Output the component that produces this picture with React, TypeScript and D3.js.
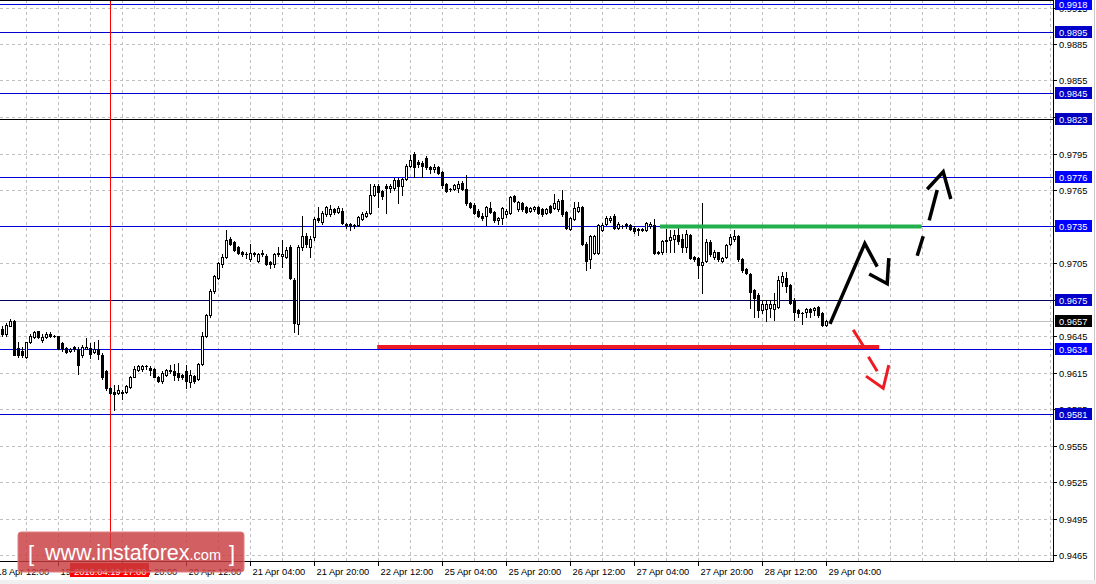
import React from 'react';
import * as d3 from 'd3';

// ---------- DATA ----------
// H1 candles, from 18 Apr 14:00 to 29 Apr 04:00 (open, high, low, close)
const ohlc: [number, number, number, number][] = [
  [0.9651,0.9653,0.9645,0.9647],[0.9647,0.9656,0.9645,0.9654],[0.9653,0.9659,0.9653,0.9657],[0.9657,0.9658,0.9629,0.9629],
  [0.9635,0.9640,0.9628,0.9629],[0.9633,0.9636,0.9628,0.9629],[0.9628,0.9640,0.9627,0.9640],[0.9640,0.9647,0.9639,0.9645],
  [0.9644,0.9649,0.9643,0.9648],[0.9649,0.9649,0.9643,0.9644],[0.9642,0.9647,0.9640,0.9644],[0.9644,0.9648,0.9643,0.9647],
  [0.9647,0.9648,0.9644,0.9645],[0.9645,0.9646,0.9644,0.9645],[0.9645,0.9645,0.9634,0.9635],[0.9639,0.9640,0.9633,0.9635],
  [0.9635,0.9636,0.9631,0.9632],[0.9633,0.9635,0.9632,0.9634],[0.9636,0.9637,0.9633,0.9634],[0.9634,0.9636,0.9614,0.9621],
  [0.9629,0.9638,0.9628,0.9636],[0.9634,0.9643,0.9634,0.9636],[0.9635,0.9639,0.9627,0.9630],[0.9632,0.9640,0.9631,0.9634],
  [0.9634,0.9642,0.9626,0.9630],[0.9629,0.9631,0.9610,0.9611],[0.9616,0.9617,0.9601,0.9602],[0.9602,0.9603,0.9597,0.9598],
  [0.9599,0.9605,0.9584,0.9597],[0.9598,0.9605,0.9597,0.9601],[0.9599,0.9601,0.9593,0.9598],[0.9599,0.9605,0.9598,0.9604],
  [0.9603,0.9612,0.9602,0.9611],[0.9611,0.9620,0.9611,0.9618],[0.9617,0.9621,0.9616,0.9620],[0.9618,0.9621,0.9616,0.9620],
  [0.9620,0.9621,0.9618,0.9620],[0.9619,0.9620,0.9613,0.9617],[0.9618,0.9619,0.9611,0.9611],[0.9611,0.9612,0.9607,0.9608],
  [0.9608,0.9616,0.9606,0.9615],[0.9613,0.9618,0.9612,0.9617],[0.9617,0.9621,0.9615,0.9616],[0.9616,0.9622,0.9609,0.9613],
  [0.9615,0.9623,0.9609,0.9611],[0.9613,0.9614,0.9610,0.9611],[0.9616,0.9621,0.9602,0.9608],[0.9607,0.9617,0.9603,0.9613],
  [0.9612,0.9613,0.9606,0.9608],[0.9610,0.9623,0.9609,0.9622],[0.9622,0.9648,0.9621,0.9645],[0.9645,0.9663,0.9644,0.9662],
  [0.9662,0.9684,0.9661,0.9682],[0.9682,0.9695,0.9680,0.9694],[0.9693,0.9706,0.9692,0.9705],[0.9704,0.9712,0.9702,0.9710],
  [0.9710,0.9732,0.9709,0.9724],[0.9725,0.9726,0.9720,0.9721],[0.9722,0.9723,0.9715,0.9716],[0.9718,0.9719,0.9712,0.9713],
  [0.9714,0.9715,0.9711,0.9712],[0.9712,0.9714,0.9709,0.9712],[0.9708,0.9721,0.9707,0.9713],[0.9713,0.9714,0.9711,0.9712],
  [0.9707,0.9713,0.9706,0.9712],[0.9713,0.9716,0.9711,0.9712],[0.9711,0.9712,0.9703,0.9704],[0.9706,0.9707,0.9701,0.9704],
  [0.9704,0.9713,0.9702,0.9712],[0.9713,0.9718,0.9711,0.9712],[0.9711,0.9724,0.9702,0.9712],[0.9710,0.9718,0.9709,0.9716],
  [0.9718,0.9720,0.9692,0.9693],[0.9691,0.9693,0.9648,0.9656],[0.9655,0.9720,0.9647,0.9718],[0.9718,0.9744,0.9716,0.9727],
  [0.9727,0.9730,0.9718,0.9721],[0.9718,0.9727,0.9710,0.9725],[0.9726,0.9743,0.9724,0.9741],[0.9742,0.9751,0.9739,0.9740],
  [0.9739,0.9748,0.9737,0.9746],[0.9745,0.9752,0.9744,0.9751],[0.9745,0.9753,0.9744,0.9749],[0.9749,0.9750,0.9745,0.9747],
  [0.9747,0.9752,0.9746,0.9750],[0.9748,0.9750,0.9737,0.9738],[0.9737,0.9738,0.9734,0.9736],[0.9737,0.9738,0.9732,0.9735],
  [0.9736,0.9737,0.9734,0.9736],[0.9736,0.9744,0.9735,0.9743],[0.9741,0.9747,0.9740,0.9745],[0.9744,0.9748,0.9743,0.9746],
  [0.9746,0.9770,0.9745,0.9761],[0.9761,0.9770,0.9760,0.9768],[0.9768,0.9770,0.9751,0.9763],[0.9764,0.9765,0.9758,0.9760],
  [0.9768,0.9770,0.9746,0.9767],[0.9767,0.9770,0.9763,0.9768],[0.9767,0.9775,0.9765,0.9773],[0.9773,0.9775,0.9754,0.9768],
  [0.9768,0.9775,0.9761,0.9774],[0.9774,0.9786,0.9773,0.9785],[0.9785,0.9794,0.9784,0.9790],[0.9795,0.9796,0.9776,0.9784],
  [0.9788,0.9790,0.9784,0.9786],[0.9787,0.9789,0.9776,0.9785],[0.9791,0.9793,0.9782,0.9784],[0.9784,0.9785,0.9779,0.9782],
  [0.9782,0.9786,0.9780,0.9784],[0.9784,0.9785,0.9778,0.9779],[0.9780,0.9781,0.9767,0.9769],[0.9770,0.9771,0.9763,0.9764],
  [0.9766,0.9767,0.9764,0.9766],[0.9766,0.9770,0.9765,0.9769],[0.9767,0.9772,0.9763,0.9770],[0.9771,0.9772,0.9765,0.9766],
  [0.9766,0.9777,0.9753,0.9754],[0.9754,0.9755,0.9750,0.9751],[0.9753,0.9754,0.9745,0.9746],[0.9748,0.9749,0.9743,0.9744],
  [0.9744,0.9746,0.9740,0.9742],[0.9744,0.9752,0.9736,0.9751],[0.9750,0.9755,0.9746,0.9747],[0.9747,0.9748,0.9739,0.9740],
  [0.9740,0.9743,0.9737,0.9742],[0.9742,0.9751,0.9737,0.9750],[0.9745,0.9749,0.9743,0.9748],[0.9746,0.9760,0.9745,0.9759],
  [0.9760,0.9761,0.9755,0.9756],[0.9749,0.9756,0.9748,0.9755],[0.9754,0.9755,0.9748,0.9749],[0.9751,0.9752,0.9746,0.9747],
  [0.9748,0.9751,0.9747,0.9750],[0.9749,0.9752,0.9748,0.9751],[0.9751,0.9752,0.9745,0.9746],[0.9749,0.9750,0.9744,0.9745],
  [0.9746,0.9750,0.9745,0.9749],[0.9752,0.9753,0.9746,0.9747],[0.9750,0.9762,0.9749,0.9754],[0.9749,0.9758,0.9748,0.9756],
  [0.9757,0.9765,0.9744,0.9745],[0.9747,0.9748,0.9733,0.9734],[0.9733,0.9743,0.9732,0.9742],[0.9741,0.9755,0.9740,0.9750],
  [0.9748,0.9755,0.9747,0.9751],[0.9751,0.9752,0.9720,0.9721],[0.9721,0.9722,0.9699,0.9707],[0.9708,0.9728,0.9701,0.9727],
  [0.9713,0.9728,0.9712,0.9727],[0.9713,0.9737,0.9712,0.9736],[0.9732,0.9738,0.9731,0.9736],[0.9737,0.9744,0.9736,0.9742],
  [0.9740,0.9744,0.9739,0.9742],[0.9744,0.9745,0.9733,0.9734],[0.9734,0.9739,0.9733,0.9737],[0.9735,0.9736,0.9734,0.9735],
  [0.9737,0.9738,0.9734,0.9735],[0.9736,0.9737,0.9732,0.9733],[0.9734,0.9735,0.9730,0.9731],[0.9733,0.9734,0.9728,0.9732],
  [0.9733,0.9734,0.9731,0.9732],[0.9732,0.9739,0.9731,0.9738],[0.9735,0.9739,0.9734,0.9737],[0.9736,0.9741,0.9712,0.9713],
  [0.9714,0.9715,0.9712,0.9713],[0.9714,0.9724,0.9712,0.9723],[0.9724,0.9733,0.9714,0.9723],[0.9724,0.9732,0.9714,0.9726],
  [0.9725,0.9732,0.9714,0.9728],[0.9728,0.9736,0.9721,0.9723],[0.9725,0.9729,0.9714,0.9718],[0.9718,0.9732,0.9714,0.9729],
  [0.9728,0.9729,0.9708,0.9709],[0.9710,0.9711,0.9707,0.9708],[0.9709,0.9710,0.9693,0.9703],[0.9703,0.9754,0.9680,0.9706],
  [0.9707,0.9725,0.9706,0.9722],[0.9722,0.9724,0.9711,0.9712],[0.9710,0.9716,0.9708,0.9714],[0.9714,0.9714,0.9707,0.9708],
  [0.9707,0.9710,0.9706,0.9709],[0.9710,0.9721,0.9709,0.9720],[0.9721,0.9729,0.9720,0.9726],[0.9725,0.9732,0.9723,0.9727],
  [0.9727,0.9728,0.9707,0.9708],[0.9708,0.9709,0.9698,0.9699],[0.9700,0.9701,0.9696,0.9697],[0.9696,0.9697,0.9668,0.9681],
  [0.9683,0.9684,0.9661,0.9676],[0.9679,0.9680,0.9661,0.9666],[0.9666,0.9675,0.9664,0.9671],[0.9667,0.9675,0.9657,0.9671],
  [0.9668,0.9675,0.9661,0.9671],[0.9667,0.9680,0.9658,0.9671],[0.9669,0.9694,0.9668,0.9691],[0.9689,0.9698,0.9686,0.9694],
  [0.9693,0.9698,0.9681,0.9686],[0.9687,0.9688,0.9671,0.9672],[0.9675,0.9676,0.9658,0.9665],[0.9666,0.9667,0.9661,0.9664],
  [0.9664,0.9665,0.9655,0.9664],[0.9665,0.9668,0.9661,0.9667],[0.9667,0.9668,0.9661,0.9665],[0.9666,0.9669,0.9662,0.9668],
  [0.9669,0.9670,0.9661,0.9662],[0.9664,0.9665,0.9653,0.9654],[0.9654,0.9658,0.9653,0.9657],
];

const priceTickLabels = ['0.9465','0.9495','0.9525','0.9555','0.9585','0.9615','0.9645','0.9675','0.9705','0.9735','0.9765','0.9795','0.9825','0.9855','0.9885','0.9915'];
const timeTickBars = [-2, 14, 30, 46, 62, 78, 94, 110, 126, 142, 158, 174, 190, 206];
const timeTickLabels = ['18 Apr 12:00','19 Apr 04:00','19 Apr 20:00','20 Apr 12:00','21 Apr 04:00','21 Apr 20:00','22 Apr 12:00','25 Apr 04:00','25 Apr 20:00','26 Apr 12:00','27 Apr 04:00','27 Apr 20:00','28 Apr 12:00','29 Apr 04:00'];

const levelValues = [0.9918, 0.9895, 0.9845, 0.9823, 0.9776, 0.9735, 0.9675, 0.9634, 0.9581];
const levelKinds = ['blue', 'dark', 'dark', 'black', 'blue', 'blue', 'navy', 'blue', 'dark'];
const lastPrice = 0.9657;
const markerBar = 27;
const markerLabel = '2016.04.19 17:00';

// drawn analysis lines, as [bar, price]
const greenLevel: [number, number][] = [[164.5, 0.9735], [229.9, 0.9735]];
const redLevel: [number, number][] = [[93.8, 0.9636], [219.3, 0.9636]];
const blackMove: [number, number][] = [[207, 0.9655], [215.7, 0.9721], [218.8, 0.9702]];
const blackHook: [number, number][] = [[216.8, 0.9696], [221.3, 0.9688], [221.7, 0.9709]];
const blackDash1: [number, number][] = [[228.8, 0.9711], [230.3, 0.9727]];
const blackDash2: [number, number][] = [[231.8, 0.9740], [233.8, 0.9765]];
const blackHead: [number, number][] = [[231.3, 0.97656], [235.3, 0.9780], [237.2, 0.97576]];
const redDash1: [number, number][] = [[212.8, 0.9650], [215.3, 0.9637]];
const redDash2: [number, number][] = [[216.6, 0.9628], [218.8, 0.9616]];
const redHead: [number, number][] = [[216, 0.9612], [220.3, 0.9602], [221.7, 0.9621]];

// ---------- LAYOUT ----------
const W = 1096, H = 584;
const PR = 1053; // plot right edge
const PB = 561;  // plot bottom edge
const FONT = '"Liberation Sans", Arial, sans-serif';

const xs = d3.scaleLinear().domain([0, 262]).range([2, 1050]);
const ys = d3.scaleLinear().domain([0.9465, 0.9885]).range([555, 44]);

const line = d3.line<[number, number]>().x(d => xs(d[0])).y(d => ys(d[1]));

const lineColor: Record<string, string> = { blue: '#0000dd', dark: '#0000cc', black: '#000000', navy: '#000060' };
const boxColor: Record<string, string> = { blue: '#0000ff', dark: '#0000c8', black: '#0000c0', navy: '#0000c8' };

export default function App() {
  const gridX = d3.range(6, 263, 8);
  return (
    <svg width={W} height={H} style={{ position: 'absolute', left: 0, top: 0, background: '#fff' }} fontFamily={FONT}>
      <rect x={0} y={0} width={W} height={H} fill="#fff" />
      <rect x={0} y={580} width={W} height={4} fill="#f0f0f0" />
      <line x1={1094.5} y1={0} x2={1094.5} y2={580} stroke="#c8c8c8" />
      {/* grid */}
      <g stroke="#c0c0c0" strokeDasharray="3,3" shapeRendering="crispEdges">
        {priceTickLabels.map(t => {
          const y = Math.round(ys(+t)) + 0.5;
          return <line key={'h' + t} x1={0} x2={PR} y1={y} y2={y} />;
        })}
        {gridX.map(i => {
          const x = Math.round(xs(i)) + 0.5;
          return <line key={'v' + i} x1={x} x2={x} y1={0} y2={PB} />;
        })}
      </g>
      {/* last price line */}
      <line x1={0} x2={PR} y1={Math.round(ys(lastPrice)) + 0.5} y2={Math.round(ys(lastPrice)) + 0.5} stroke="#c0c0c0" shapeRendering="crispEdges" />
      {/* levels */}
      <g shapeRendering="crispEdges">
        {levelValues.map((v, k) => {
          const y = Math.round(ys(v)) + 0.5;
          return <line key={'l' + v} x1={0} x2={PR} y1={y} y2={y} stroke={lineColor[levelKinds[k]]} />;
        })}
      </g>
      {/* marker vertical line */}
      <line x1={Math.round(xs(markerBar)) + 0.5} x2={Math.round(xs(markerBar)) + 0.5} y1={0} y2={PB} stroke="#ff0000" shapeRendering="crispEdges" />
      {/* candles */}
      <g shapeRendering="crispEdges">
        {ohlc.map((d, i) => {
          const [o, h, l, c] = d;
          const cx = Math.round(xs(i));
          const yo = Math.round(ys(o)), yc = Math.round(ys(c));
          const yh = Math.round(ys(h)), yl = Math.round(ys(l));
          const top = Math.min(yo, yc), bot = Math.max(yo, yc);
          const els = [<line key="w" x1={cx + 0.5} x2={cx + 0.5} y1={yh} y2={yl + 1} stroke="#000" />];
          if (bot - top < 1) {
            els.push(<line key="b" x1={cx - 1} x2={cx + 2} y1={top + 0.5} y2={top + 0.5} stroke="#000" />);
          } else if (c > o) {
            els.push(<rect key="b" x={cx - 0.5} y={top + 0.5} width={2} height={bot - top} fill="#fff" stroke="#000" />);
          } else {
            els.push(<rect key="b" x={cx - 1} y={top} width={3} height={bot - top + 1} fill="#000" />);
          }
          return <g key={i}>{els}</g>;
        })}
      </g>
      {/* analysis drawings */}
      <path d={line(greenLevel) || ''} stroke="#22b04c" strokeWidth={4} fill="none" />
      <path d={line(redLevel) || ''} stroke="#ed1c24" strokeWidth={4} fill="none" />
      <g stroke="#000" strokeWidth={3.5} fill="none" strokeLinejoin="miter" strokeLinecap="butt">
        <path d={line(blackMove) || ''} />
        <path d={line(blackHook) || ''} />
        <path d={line(blackDash1) || ''} />
        <path d={line(blackDash2) || ''} />
        <path d={line(blackHead) || ''} />
      </g>
      <g stroke="#ed1c24" strokeWidth={3} fill="none">
        <path d={line(redDash1) || ''} />
        <path d={line(redDash2) || ''} />
        <path d={line(redHead) || ''} />
      </g>
      {/* frame */}
      <g stroke="#000" shapeRendering="crispEdges">
        <line x1={0} x2={PR} y1={0.5} y2={0.5} />
        <line x1={PR + 0.5} x2={PR + 0.5} y1={0} y2={PB + 1} />
        <line x1={0} x2={PR} y1={PB + 0.5} y2={PB + 0.5} />
      </g>
      {/* price axis */}
      <g fontSize={9.3} fill="#000">
        {priceTickLabels.map(t => {
          const y = Math.round(ys(+t)) + 0.5;
          return (
            <g key={'pt' + t}>
              <line x1={PR} x2={PR + 4} y1={y} y2={y} stroke="#000" shapeRendering="crispEdges" />
              <text x={1059} y={y} dy="0.35em">{t}</text>
            </g>
          );
        })}
      </g>
      {levelValues.map((v, k) => {
        const y = Math.round(ys(v));
        return (
          <g key={'lb' + v}>
            <rect x={1055} y={y - 6} width={37} height={12} fill={boxColor[levelKinds[k]]} />
            <text x={1059} y={y + 0.5} dy="0.35em" fontSize={9.3} fill="#fff">{v.toFixed(4)}</text>
          </g>
        );
      })}
      <g>
        <rect x={1055} y={Math.round(ys(lastPrice)) - 6} width={37} height={12} fill="#000" />
        <text x={1059} y={Math.round(ys(lastPrice)) + 0.5} dy="0.35em" fontSize={9.3} fill="#fff">{lastPrice.toFixed(4)}</text>
      </g>
      {/* time axis */}
      <g fontSize={9.3} fill="#000">
        {timeTickBars.map((b, k) => {
          const x = Math.round(xs(b)) + 0.5;
          return (
            <g key={'tt' + b}>
              <line x1={x} x2={x} y1={PB} y2={PB + 5} stroke="#000" shapeRendering="crispEdges" />
              <text x={x + 2} y={575}>{timeTickLabels[k]}</text>
            </g>
          );
        })}
      </g>
      <rect x={70} y={563} width={79} height={14} fill="#ff0000" />
      <text x={74} y={575} fontSize={9.3} fill="#fff">{markerLabel}</text>
      {/* logo */}
      <g>
        <rect x={18} y={532} width={226} height={40} rx={3} fill="#c83c40" fillOpacity={0.82} stroke="#e08080" strokeWidth={1} />
        <text x={28} y={561} fontSize={22} fill="#fff">[</text>
        <text x={45} y={560} fill="#fff">
          <tspan fontSize={21.5}>www.instaforex</tspan>
          <tspan fontSize={14.5}>.com</tspan>
        </text>
        <text x={229} y={561} fontSize={22} fill="#fff">]</text>
      </g>
    </svg>
  );
}
